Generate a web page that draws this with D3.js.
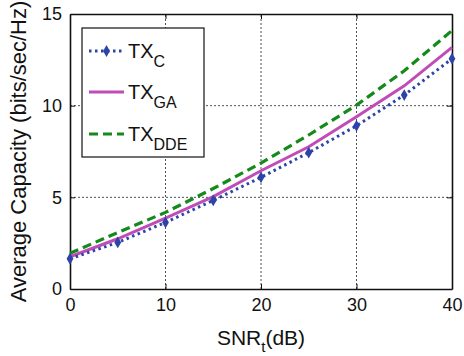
<!DOCTYPE html>
<html><head><meta charset="utf-8">
<script src="https://cdn.jsdelivr.net/npm/d3@7"></script>
<style>body{margin:0;background:#fff;}svg{display:block;}text{font-family:"Liberation Sans",Arial,sans-serif;fill:#111;}</style>
</head><body>
<script>
const snr = [0, 5, 10, 15, 20, 25, 30, 35, 40];
const txC = [1.65, 2.54, 3.63, 4.83, 6.09, 7.44, 8.90, 10.58, 12.56];
const txGA = [1.76, 2.74, 3.86, 5.04, 6.45, 7.76, 9.40, 11.08, 13.18];
const txDDE = [1.95, 3.08, 4.18, 5.48, 6.87, 8.40, 10.03, 11.90, 14.10];
const xTicks = [0, 10, 20, 30, 40];
const yTicks = [0, 5, 10, 15];

const W = 464, H = 356;
const m = {l: 70, r: 12, t: 14, b: 67};
const svg = d3.select("body").append("svg").attr("width", W).attr("height", H);
const x = d3.scaleLinear().domain([0, 40]).range([m.l, W - m.r]);
const y = d3.scaleLinear().domain([0, 15]).range([H - m.b, m.t]);

// grid
const g = svg.append("g");
g.selectAll(".gx").data(xTicks.slice(1, -1)).join("line")
  .attr("x1", d => x(d)).attr("x2", d => x(d)).attr("y1", y(0)).attr("y2", y(15))
  .attr("stroke", "#222").attr("stroke-width", 0.8).attr("stroke-dasharray", "2,2");
g.selectAll(".gy").data(yTicks.slice(1, -1)).join("line")
  .attr("y1", d => y(d)).attr("y2", d => y(d)).attr("x1", x(0)).attr("x2", x(40))
  .attr("stroke", "#222").attr("stroke-width", 0.8).attr("stroke-dasharray", "2,2");

// axes
const xa = svg.append("g").attr("transform", `translate(0,${y(0)})`)
  .call(d3.axisBottom(x).tickValues(xTicks).tickSizeInner(-5).tickSizeOuter(0).tickPadding(9));
const xt = svg.append("g").attr("transform", `translate(0,${y(15)})`)
  .call(d3.axisTop(x).tickValues(xTicks).tickSizeInner(-5).tickSizeOuter(0).tickFormat(""));
const ya = svg.append("g").attr("transform", `translate(${x(0)},0)`)
  .call(d3.axisLeft(y).tickValues(yTicks).tickSizeInner(-5).tickSizeOuter(0).tickPadding(8));
const yr = svg.append("g").attr("transform", `translate(${x(40)},0)`)
  .call(d3.axisRight(y).tickValues(yTicks).tickSizeInner(-5).tickSizeOuter(0).tickFormat(""));
[xa, xt, ya, yr].forEach(a => {
  a.selectAll("path").attr("stroke", "#111").attr("stroke-width", 1.6);
  a.selectAll("line").attr("stroke", "#111").attr("stroke-width", 1);
  a.selectAll("text").style("font-size", "18px").attr("fill", "#111");
});

// lines
const line = d3.line().x((d, i) => x(snr[i])).y(d => y(d));
svg.append("path").datum(txDDE).attr("d", line).attr("fill", "none")
  .attr("stroke", "#138a1a").attr("stroke-width", 3.2).attr("stroke-dasharray", "9,5");
svg.append("path").datum(txGA).attr("d", line).attr("fill", "none")
  .attr("stroke", "#c04cb8").attr("stroke-width", 3);
svg.append("path").datum(txC).attr("d", line).attr("fill", "none")
  .attr("stroke", "#2c44a8").attr("stroke-width", 3).attr("stroke-dasharray", "2.5,3.5");
const sym = d3.symbol().type(d3.symbolDiamond).size(40);
svg.selectAll(".mk").data(txC).join("path").attr("d", sym)
  .attr("transform", (d, i) => `translate(${x(snr[i])},${y(d)})`).attr("fill", "#2c44a8");

// legend
const lg = svg.append("g");
lg.append("rect").attr("x", 82).attr("y", 28).attr("width", 122).attr("height", 129)
  .attr("fill", "#fff").attr("stroke", "#111").attr("stroke-width", 1.2);
const items = [
  {sub: "C", color: "#2c44a8", dash: "2.5,3.5", y: 51, mk: true},
  {sub: "GA", color: "#c04cb8", dash: null, y: 92},
  {sub: "DDE", color: "#138a1a", dash: "9,5", y: 134}
];
items.forEach(it => {
  lg.append("line").attr("x1", 89).attr("x2", 124).attr("y1", it.y).attr("y2", it.y)
    .attr("stroke", it.color).attr("stroke-width", 3).attr("stroke-dasharray", it.dash);
  if (it.mk) lg.append("path").attr("d", sym).attr("transform", `translate(106.5,${it.y})`).attr("fill", it.color);
  const t = lg.append("text").attr("x", 128).attr("y", it.y + 7).style("font-size", "20px");
  t.append("tspan").text("TX");
  t.append("tspan").attr("dy", 9).style("font-size", "16px").text(it.sub);
});

// axis labels
const xl = svg.append("text").attr("x", x(20)).attr("y", 345).attr("text-anchor", "middle").style("font-size", "21px");
xl.append("tspan").text("SNR");
xl.append("tspan").attr("dy", 7).style("font-size", "15px").text("t");
xl.append("tspan").attr("dy", -7).text("(dB)");
svg.append("text").attr("transform", `translate(26,${(y(0) + y(15)) / 2}) rotate(-90)`)
  .attr("text-anchor", "middle").style("font-size", "22px").text("Average Capacity (bits/sec/Hz)");
</script>
</body></html>
